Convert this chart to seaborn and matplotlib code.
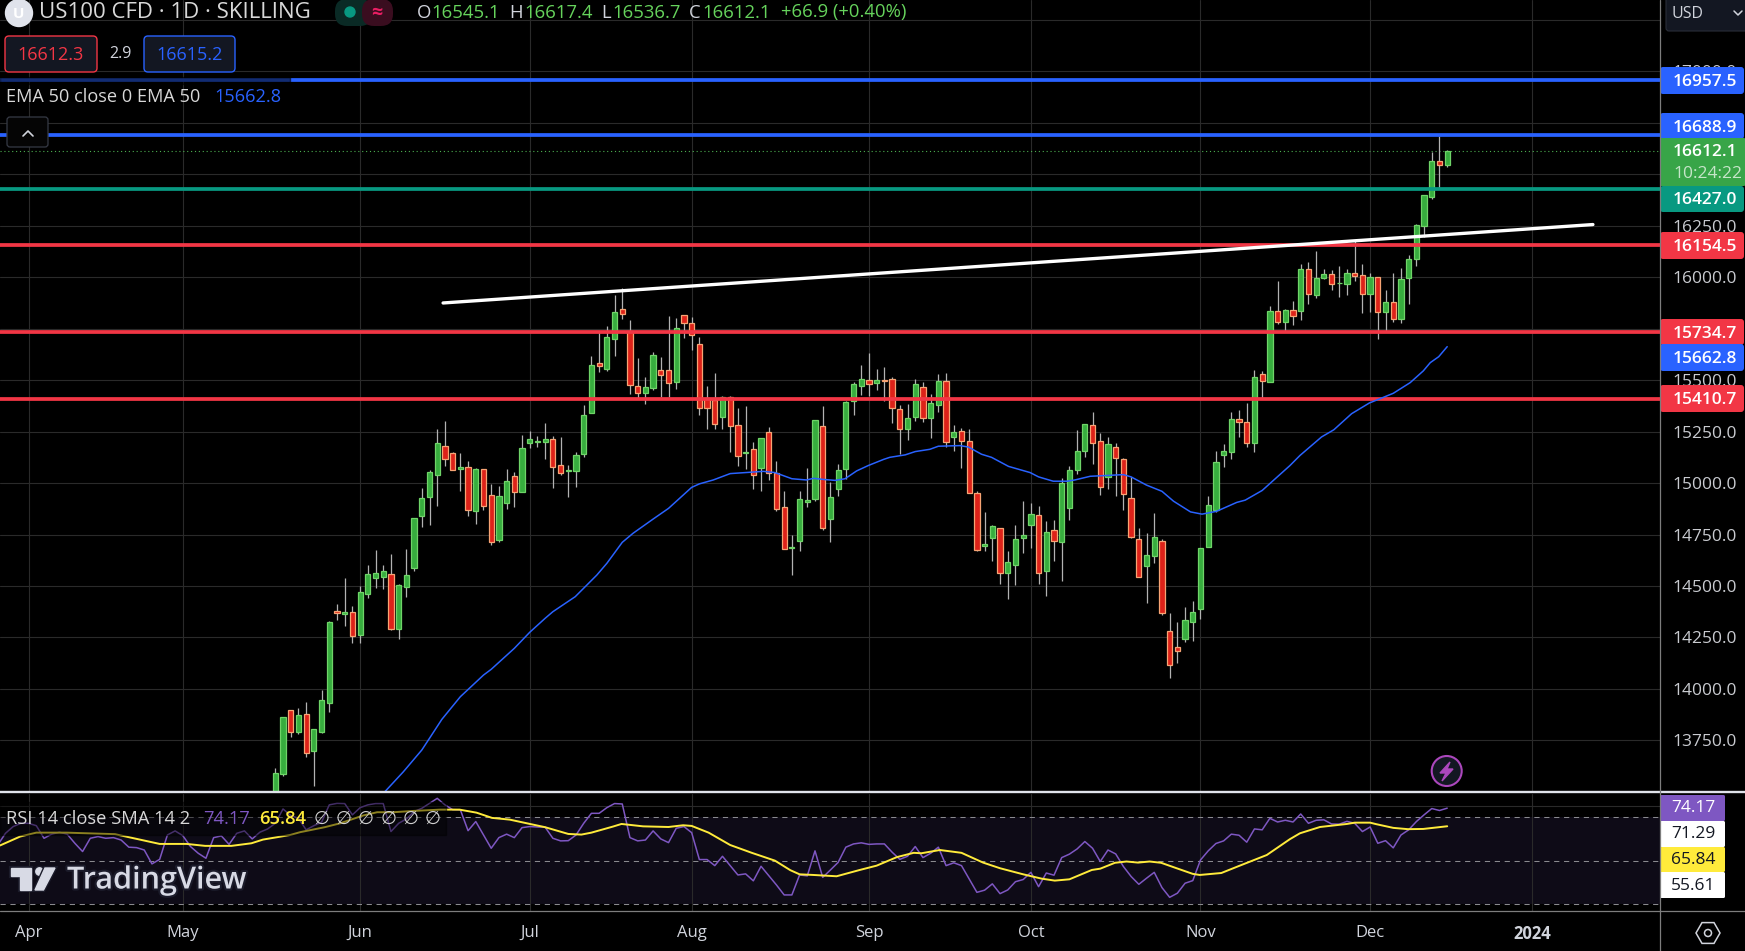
import numpy as np
import pandas as pd
import matplotlib
matplotlib.use("Agg")
import matplotlib.pyplot as plt
import matplotlib.patheffects as pe
from matplotlib.patches import Circle, FancyBboxPatch, Polygon, Rectangle, RegularPolygon
import seaborn as sns

# daily candles, first bar that reaches the visible pane is bar 32 (bar 0 = 3 Apr)
first_bar = 32
opens = [
    13480, 13588, 13896, 13792, 13876, 13700, 13790, 13933, 14377, 14365,
    14372, 14263, 14463, 14540, 14542, 14557, 14292, 14493, 14589, 14842,
    14934, 15041, 15179, 15145, 15070, 15077, 14866, 15067, 14940, 14725,
    14905, 15033, 14958, 15196, 15200, 15201, 15213, 15086, 15060, 15060,
    15143, 15342, 15582, 15556, 15702, 15844, 15741, 15470, 15439, 15464,
    15548, 15548, 15493, 15815, 15776, 15674, 15412, 15402, 15323, 15417,
    15281, 15146, 15164, 15075, 15250, 15051, 14882, 14686, 14720, 14910,
    14924, 15276, 14827, 14973, 15070, 15401, 15473, 15499, 15485, 15499,
    15504, 15362, 15264, 15323, 15465, 15318, 15381, 15495, 15226, 15251,
    15203, 14950, 14696, 14735, 14780, 14565, 14604, 14735, 14798, 14843,
    14574, 14770, 14715, 14881, 15065, 15158, 15281, 15203, 15031, 15174,
    15115, 14926, 14727, 14599, 14647, 14717, 14280, 14202, 14244, 14326,
    14386, 14691, 14869, 15134, 15153, 15311, 15295, 15193, 15529, 15493,
    15835, 15784, 15840, 15838, 16039, 15916, 15998, 16015, 15970, 15965,
    16020, 16010, 15921, 16000, 15829, 15878, 15795, 15994, 16091, 16251,
    16392, 16563, 16545.1,
]
highs = [
    13614, 13862, 13897, 13905, 13934, 13803, 13994, 14330, 14412, 14539,
    14403, 14500, 14602, 14675, 14602, 14655, 14508, 14680, 14830, 14974,
    15064, 15263, 15302, 15149, 15146, 15106, 15072, 15068, 14996, 14986,
    15068, 15054, 15234, 15253, 15229, 15292, 15229, 15224, 15088, 15149,
    15378, 15618, 15734, 15763, 15914, 15946, 15791, 15606, 15514, 15637,
    15613, 15812, 15802, 15815, 15806, 15708, 15472, 15533, 15422, 15422,
    15365, 15375, 15198, 15217, 15271, 15107, 14960, 14748, 14960, 15072,
    15305, 15375, 15004, 15091, 15397, 15491, 15574, 15632, 15554, 15564,
    15514, 15378, 15384, 15504, 15491, 15433, 15530, 15535, 15282, 15266,
    15263, 14960, 14859, 14795, 14780, 14668, 14795, 14911, 14903, 14887,
    14816, 14821, 15023, 15083, 15258, 15286, 15345, 15243, 15222, 15195,
    15122, 15028, 14780, 14757, 14855, 14727, 14367, 14325, 14398, 14427,
    14683, 14936, 15156, 15189, 15345, 15354, 15389, 15550, 15545, 15861,
    15982, 15847, 15883, 16065, 16074, 16128, 16039, 16036, 16055, 16041,
    16178, 16065, 16022, 16000, 15939, 16022, 16046, 16109, 16260, 16400,
    16608, 16687, 16617.4,
]
lows = [
    13470, 13578, 13768, 13781, 13670, 13528, 13787, 13887, 14335, 14305,
    14224, 14224, 14443, 14492, 14487, 14286, 14244, 14448, 14574, 14788,
    14796, 14889, 15083, 15064, 14963, 14840, 14803, 14871, 14699, 14715,
    14874, 14884, 14958, 15172, 15177, 15117, 14976, 15039, 14934, 14983,
    15127, 15342, 15540, 15546, 15618, 15797, 15433, 15415, 15384, 15452,
    15420, 15420, 15457, 15705, 15647, 15331, 15263, 15263, 15264, 15151,
    15083, 15068, 14971, 14962, 15015, 14866, 14681, 14553, 14670, 14884,
    14913, 14772, 14714, 14937, 15020, 15331, 15428, 15423, 15452, 15401,
    15292, 15141, 15209, 15302, 15297, 15219, 15345, 15174, 15156, 15073,
    14953, 14672, 14670, 14621, 14510, 14437, 14505, 14660, 14683, 14510,
    14451, 14623, 14524, 14821, 15044, 15127, 15093, 14942, 14971, 14937,
    14869, 14733, 14545, 14417, 14612, 14359, 14053, 14126, 14228, 14232,
    14339, 14691, 14859, 15076, 15115, 15224, 15175, 15149, 15411, 15493,
    15774, 15741, 15770, 15790, 15871, 15897, 15992, 15940, 15906, 15916,
    15984, 15824, 15831, 15698, 15741, 15784, 15776, 15871, 16057, 16196,
    16381, 16430, 16536.7,
]
closes = [
    13589, 13862, 13792, 13871, 13690, 13803, 13944, 14323, 14370, 14373,
    14258, 14469, 14557, 14561, 14571, 14292, 14503, 14552, 14829, 14926,
    15052, 15193, 15119, 15065, 15077, 14871, 15067, 14890, 14715, 14936,
    15009, 14958, 15169, 15213, 15203, 15213, 15080, 15051, 15062, 15135,
    15329, 15572, 15571, 15708, 15830, 15823, 15478, 15439, 15465, 15621,
    15527, 15488, 15752, 15780, 15721, 15367, 15367, 15289, 15417, 15279,
    15133, 15149, 15038, 15217, 15051, 14876, 14681, 14688, 14921, 14916,
    15305, 14783, 14931, 15062, 15392, 15480, 15504, 15480, 15499, 15498,
    15367, 15264, 15315, 15480, 15315, 15388, 15495, 15201, 15247, 15206,
    14953, 14676, 14702, 14790, 14565, 14615, 14727, 14746, 14848, 14565,
    14761, 14720, 14999, 15062, 15154, 15286, 15196, 14983, 15188, 15124,
    14949, 14738, 14545, 14649, 14736, 14370, 14118, 14186, 14333, 14372,
    14683, 14892, 15101, 15154, 15311, 15295, 15193, 15514, 15498, 15835,
    15784, 15840, 15814, 16039, 15918, 15996, 16015, 15965, 15973, 16020,
    16008, 15921, 16000, 15829, 15878, 15795, 15991, 16088, 16253, 16398,
    16563, 16543, 16612.1,
]

ema_bars = [46.2, 48.6, 51, 52, 53.6, 56, 59, 60, 63, 65, 67, 68, 70.9, 73.7, 75, 77, 78.4, 81, 83, 86,
            87, 88.8, 91, 93.4, 95.3, 96.8, 99, 100.9, 101.8, 103, 104.6, 105.9, 107.4, 108.9, 110.9,
            111.7, 113.7, 115, 116.9, 118, 120.8, 121.9, 123.6, 124.9, 127.1, 129.9, 131, 132.9, 134.7,
            135.7, 137.7, 139.4, 142, 143, 145, 147, 148.5, 150.7, 152.2, 154.1, 156.7, 157.8, 160,
            163.6, 164.9, 167.7, 169.3, 171.6, 173.9, 177, 179.2, 180.9, 181.8, 182.9, 184]
ema_vals = [13500, 13597, 13703, 13760, 13852, 13962, 14067, 14095, 14197, 14275, 14343, 14375, 14448, 14553,
            14610, 14712, 14756, 14825, 14877, 14979, 14996, 15015, 15046, 15052, 15057, 15051, 15021, 15015,
            15023, 15018, 15013, 15021, 15059, 15085, 15115, 15125, 15137, 15153, 15164, 15179, 15182, 15175,
            15140, 15125, 15081, 15051, 15030, 15009, 15009, 15015, 15033, 15036, 15041, 15030, 14990, 14960,
            14912, 14860, 14849, 14863, 14906, 14917, 14964, 15085, 15134, 15224, 15259, 15337, 15389, 15436,
            15488, 15545, 15585, 15614, 15662.8]

# RSI per bar, starts 4 bars left of April
rsi_first_bar = -4
rsi_vals = [
    57.2, 62.6, 65.7, 67.2, 67.2, 66.1, 60.3, 62.2, 63.1, 62.2, 58.0, 54.2, 60.3, 61.1, 60.3, 60.6,
    59.5, 56.2, 56.0, 54.9, 48.5, 50.6, 61.8, 63.7, 61.5, 56.5, 53.4, 51.1, 60.6, 61.4, 57.5, 62.6,
    63.7, 60.0, 63.1, 64.6, 67.2, 73.8, 70.8, 69.5, 64.2, 66.1, 67.7, 75.7, 76.4, 76.3, 71.1, 74.4,
    75.7, 76.3, 76.3, 63.4, 67.2, 69.2, 72.6, 74.1, 76.4, 78.7, 75.7, 73.5, 73.4, 63.8, 68.0, 61.8,
    55.7, 60.6, 62.2, 60.6, 65.2, 65.7, 65.5, 65.4, 60.3, 59.1, 59.2, 61.8, 67.2, 71.8, 71.8, 74.4,
    76.3, 76.1, 60.6, 59.1, 59.5, 63.7, 60.0, 58.3, 64.9, 65.7, 62.9, 50.5, 50.5, 47.7, 52.0, 47.7,
    43.4, 43.9, 40.7, 47.4, 43.1, 38.8, 34.2, 34.2, 43.4, 43.0, 54.5, 42.3, 45.7, 49.2, 56.2, 57.7,
    58.2, 57.5, 57.7, 57.7, 53.9, 50.6, 52.0, 56.5, 51.4, 53.4, 56.2, 47.7, 49.0, 47.7, 41.6, 35.4,
    36.4, 39.3, 34.8, 36.5, 40.3, 41.3, 44.6, 38.0, 44.3, 43.3, 51.4, 53.0, 55.4, 58.8, 55.7, 49.6,
    54.9, 53.1, 47.3, 42.7, 39.1, 41.9, 44.6, 37.6, 33.1, 35.0, 39.6, 40.8, 50.3, 54.5, 57.9, 59.1,
    62.2, 61.7, 58.5, 64.6, 64.2, 69.5, 67.8, 68.6, 67.8, 71.5, 67.2, 68.6, 68.8, 66.9, 66.8, 68.1,
    67.2, 63.4, 65.5, 58.0, 59.2, 55.9, 61.8, 64.2, 68.0, 71.1, 74.0, 73.1, 74.17,
]
sma_bars = [-3.7, -1.1, 1, 4.9, 11.2, 17, 20.5, 22.9, 26.3, 28.9, 30.4, 33.9, 35.2, 38.4, 40.4, 43.4, 45.2,
            47.3, 49.9, 53.4, 55.9, 58.1, 60.1, 62.4, 67, 70, 71.7, 73, 75.8, 76.9, 79.7, 83, 84.9, 86,
            88.2, 91, 93.8, 96.8, 98.8, 100, 101.8, 104.8, 107.8, 110, 112.6, 114.8, 115.8, 118.2, 121,
            123.8, 126, 129, 131.4, 133.1, 135, 137.9, 139, 140.9, 142.4, 143.9, 145.4, 146.9, 148.9,
            151, 151.9, 154.7, 157.1, 160.6, 163.6, 164.9, 167.5, 171, 172, 174, 174.8, 177, 178.9, 180.9, 184]
sma_vals = [57.0, 61.1, 62.9, 62.9, 62.2, 57.7, 57.7, 56.8, 56.8, 58.0, 59.7, 61.8, 63.1, 65.4, 67.2, 70.8, 72.3,
            72.3, 72.9, 73.5, 73.5, 72.1, 69.7, 68.9, 65.4, 62.3, 62.0, 62.9, 65.7, 66.9, 65.8, 65.5, 66.3, 66.0,
            62.9, 57.2, 53.6, 50.0, 45.6, 43.7, 43.4, 42.8, 45.7, 47.7, 51.6, 53.6, 53.4, 54.9, 53.6,
            49.1, 46.5, 43.7, 41.7, 40.8, 41.4, 45.7, 46.3, 49.0, 49.6, 49.1, 49.6, 49.0, 46.5,
            43.9, 43.4, 44.3, 47.7, 52.6, 59.9, 62.6, 65.5, 66.9, 67.5, 67.5, 66.8, 65.1, 64.5, 64.6, 65.84]

month_labels = ["Apr", "May", "Jun", "Jul", "Aug", "Sep", "Oct", "Nov", "Dec", "2024"]
month_bars = [0, 20, 43, 65, 86, 109, 130, 152, 174, 195]
price_ticks = [13750, 14000, 14250, 14500, 14750, 15000, 15250, 15500, 15750, 16000, 16250, 16500, 16750, 17000, 17250]
# these sit fully behind a tag or the currency box in the app
hidden_ticks = [15750, 16500, 16750, 17250]

# horizontal levels (price, colour)
level_prices = [16957.5, 16688.9, 16427.0, 16154.5, 15734.7, 15410.7]
level_colors = ["#2962ff", "#2962ff", "#089981", "#f23645", "#f23645", "#f23645"]
last_price = 16612.1
trend_bars = [53.76, 202.9]
trend_prices = [15875, 16256]

W, H = 1745, 951
AXIS_X = 1660
GRID = "#2a2a2a"
TEXT = "#d1d4dc"
PURPLE = "#7e57c2"
YELLOW = "#ffeb3b"

sns.set_theme(style="dark", rc={"axes.facecolor": "black", "figure.facecolor": "black", "axes.grid": True,
                                "grid.color": GRID, "grid.linewidth": 0.8})
plt.rcParams["font.family"] = ["Open Sans", "DejaVu Sans"]


def pane(left, top, right, bottom):
    return fig.add_axes([left / W, 1 - bottom / H, (right - left) / W, (bottom - top) / H])


fig = plt.figure(figsize=(W / 100, H / 100), dpi=100)
ax = pane(0, 0, AXIS_X, 792)
rsi_ax = pane(0, 794, AXIS_X, 911)

candles = pd.DataFrame({"open": opens, "high": highs, "low": lows, "close": closes})
candles["bar"] = np.arange(first_bar, first_bar + len(candles))
candles["up"] = candles["close"] >= candles["open"]
candles["top"] = candles[["open", "close"]].max(axis=1)
candles["bottom"] = candles[["open", "close"]].min(axis=1)

# levels and candles
for price, color in zip(level_prices, level_colors):
    ax.axhline(price, color=color, lw=2.7, zorder=4)
ax.axhline(last_price, color="#4caf50", lw=0.8, ls=(0, (1, 2.5)), zorder=2)

ax.vlines(candles["bar"], candles["low"], candles["high"], color="#b2b2b2", lw=0.9, zorder=3)
for up, fill, edge in [(True, "#37ad3e", "#6fd468"), (False, "#dd2219", "#f7a474")]:
    part = candles[candles["up"] == up]
    ax.bar(part["bar"], part["top"] - part["bottom"], bottom=part["bottom"], width=0.68,
           color=fill, edgecolor=edge, linewidth=0.9, zorder=3.5)

sns.lineplot(x=ema_bars, y=ema_vals, color="#2962ff", linewidth=1.1, ax=ax, zorder=5, sort=False, errorbar=None)
sns.lineplot(x=trend_bars, y=trend_prices, color="white", linewidth=2.4, ax=ax, zorder=6, sort=False, errorbar=None)

ax.set_xlim(-3.71, 211.6)
ax.set_ylim(13499, 17347)
ax.set_xticks(month_bars)
ax.set_yticks(price_ticks)
ax.set_yticklabels(["" if p in hidden_ticks else f"{p:.1f}" for p in price_ticks])
ax.yaxis.tick_right()
ax.tick_params(axis="x", length=0, labelbottom=False)
ax.tick_params(axis="y", length=0, pad=9, labelcolor="#c9cbd0", labelsize=12.5)
ax.set_xlabel("")
ax.set_ylabel("")
ax.grid(True, color=GRID, lw=0.8)
ax.set_axisbelow(True)
sns.despine(ax=ax, left=True, bottom=True, right=True, top=True)

# RSI pane
rsi_ax.axhspan(30, 70, color="#0e0b17", lw=0, zorder=0)
for lvl in [70, 50, 30]:
    rsi_ax.axhline(lvl, color="#8a8a8f", lw=0.75, ls=(0, (5, 4.5)), zorder=1)
rsi_bars = np.arange(rsi_first_bar, rsi_first_bar + len(rsi_vals))
sns.lineplot(x=rsi_bars, y=rsi_vals, color=PURPLE, linewidth=1.1, ax=rsi_ax, zorder=3, errorbar=None)
sns.lineplot(x=sma_bars, y=sma_vals, color=YELLOW, linewidth=1.4, ax=rsi_ax, zorder=4, sort=False, errorbar=None)
rsi_ax.set_xlim(-3.71, 211.6)
rsi_ax.set_ylim(26.8, 80.7)
rsi_ax.set_yticks([75])
rsi_ax.set_yticklabels([])
rsi_ax.set_xticks(month_bars)
rsi_ax.set_xticklabels(month_labels)
rsi_ax.get_xticklabels()[-1].set_fontweight("bold")
rsi_ax.tick_params(axis="both", length=0)
rsi_ax.tick_params(axis="x", pad=10, labelcolor=TEXT, labelsize=12)
rsi_ax.set_xlabel("")
rsi_ax.set_ylabel("")
rsi_ax.grid(True, color=GRID, lw=0.8)
rsi_ax.set_axisbelow(True)
sns.despine(ax=rsi_ax, left=True, bottom=True, right=True, top=True)

# overlay in screen pixels for the app chrome: price tags, legends, logo
ui = fig.add_axes([0, 0, 1, 1], zorder=10)
ui.set_xlim(0, W)
ui.set_ylim(H, 0)
ui.axis("off")


def box(x0, y0, x1, y1, face, edge="none", lw=0.0, radius=3.0, alpha=1.0, zorder=2):
    ui.add_patch(FancyBboxPatch((x0, y0), x1 - x0, y1 - y0, boxstyle=f"round,pad=0,rounding_size={radius}",
                                facecolor=face, edgecolor=edge, linewidth=lw, alpha=alpha, zorder=zorder))


def label(x, y, s, color=TEXT, size=12.5, ha="left", weight="normal", zorder=5):
    # open sans sits a little high with va=center, nudge down
    return ui.text(x, y + 1.5, s, color=color, fontsize=size, ha=ha, va="center", fontweight=weight, zorder=zorder)


# frame lines
ui.plot([0, W], [792, 792], color="#e0e3eb", lw=1.7, zorder=3)
ui.plot([AXIS_X, AXIS_X], [0, H], color="#7d7d7d", lw=0.9, zorder=3)
ui.plot([0, W], [911, 911], color="#7d7d7d", lw=0.9, zorder=3)

# right-hand price tags: top, bottom, text, colour
tags = [
    (67, 94, "16957.5", "#2962ff"),
    (113, 139, "16688.9", "#2962ff"),
    (186, 212, "16427.0", "#089981"),
    (232, 259, "16154.5", "#f23645"),
    (319, 345, "15734.7", "#f23645"),
    (344, 371, "15662.8", "#2962ff"),
    (385, 412, "15410.7", "#f23645"),
]
for top, bottom, txt, col in tags:
    box(AXIS_X, top, 1744, bottom, col)
    label(1673, (top + bottom) / 2, txt, color="white", weight="semibold")
box(AXIS_X, 138, 1745, 186, "#38a548", radius=1)
label(1673, 151, "16612.1", color="white", weight="semibold")
label(1673, 172, "10:24:22", color="#c6e5c9", size=12.5)

# USD selector
box(1666, -6, 1750, 31, "#131722", edge="#2a2e39", lw=0.8)
label(1672, 12, "USD", size=11.5)
ui.plot([1734, 1738, 1742], [11, 15, 11], color=TEXT, lw=1.1, zorder=5)

# header
ui.add_patch(Circle((19, 13), 13.5, color="#e0e3eb", zorder=3))
label(19, 12, "U", color="white", size=11, ha="center", weight="bold")
label(39, 11, "US100 CFD · 1D · SKILLING", color="#d8d8d8", size=16)
box(335, -1, 372, 26, "#0a2a25", radius=12)
box(362, -1, 393, 26, "#3a0d1f", radius=12, zorder=2.5)
ui.add_patch(Circle((350, 12), 5, color="#089981", zorder=4))
label(377, 11, "≈", color="#e91e63", size=14, ha="center", weight="bold")

ohlc_green = "#66d35c"
ohlc = [(417, "O", TEXT), (431, "16545.1", ohlc_green), (509, "H", TEXT), (524, "16617.4", ohlc_green),
        (601, "L", TEXT), (612, "16536.7", ohlc_green), (689, "C", TEXT), (702, "16612.1", ohlc_green),
        (781, "+66.9 (+0.40%)", ohlc_green)]
for x, s, col in ohlc:
    label(x, 11, s, color=col, size=13.3)

box(5, 36, 97, 72, "#131722", edge="#f23645", lw=1.0, radius=4)
label(51, 53, "16612.3", color="#f23645", ha="center", size=13)
label(120, 53, "2.9", ha="center", size=11.5)
box(144, 36, 235, 72, "#131722", edge="#2962ff", lw=1.0, radius=4)
label(190, 53, "16615.2", color="#2962ff", ha="center", size=13)

# legend strip dims the top level line where it passes behind it
ui.add_patch(Rectangle((0, 77), 290, 7, color="black", alpha=0.55, zorder=2))
label(6, 96, "EMA 50 close 0 EMA 50", color="#d8d8d8", size=13.1)
label(214, 96, "15662.8", color="#2962ff", size=13.1)

box(7, 117, 48, 147, "#050505", edge="#363a45", lw=0.9, radius=3)
ui.plot([23, 28, 33], [136, 131, 136], color=TEXT, lw=1.2, zorder=5)

# lightning button
ui.add_patch(Circle((1446.7, 771), 15, facecolor="#131722", edgecolor="#ab47bc", lw=1.5, zorder=3))
ui.add_patch(Polygon([(1450, 762), (1440, 773), (1446, 773), (1442, 781), (1453, 769), (1447, 769)],
                     closed=True, color="#ab47bc", zorder=4))

# RSI legend
ui.add_patch(Rectangle((0, 802), 446, 33, color="black", alpha=0.45, zorder=2))
label(6, 817, "RSI 14 close SMA 14 2", color="#d8d8d8", size=13.2)
label(203, 817, "74.17", color=PURPLE, size=13.2)
label(259, 817, "65.84", color=YELLOW, size=13.2, weight="semibold")
for x in [322, 344, 366, 389, 411, 433]:
    label(x, 817, "∅", color="#cfcfcf", size=13.2, ha="center")

# RSI tags
rsi_tags = [(795, 821, "74.17", PURPLE, "white"), (821, 847, "71.29", "white", "#131722"),
            (847, 872, "65.84", YELLOW, "#131722"), (872, 898, "55.61", "white", "#131722")]
for top, bottom, txt, col, txt_col in rsi_tags:
    box(AXIS_X, top, 1725, bottom, col, radius=1.5)
    label(1693, (top + bottom) / 2 - 1, txt, color=txt_col, ha="center", size=12.5)

# settings hexagon
ui.add_patch(RegularPolygon((1708, 933), 6, radius=12, orientation=np.pi / 6, fill=False,
                            edgecolor=TEXT, lw=1.1, zorder=4))
ui.add_patch(Circle((1708, 933), 3.5, fill=False, edgecolor=TEXT, lw=1.1, zorder=4))

# TradingView logo
logo_col = "#d8dae5"
halo = [pe.withStroke(linewidth=3, foreground="#1b1b2a")]
logo_parts = [
    Polygon([(11, 868), (31, 868), (31, 890), (20, 890), (20, 876), (11, 876)], closed=True, color=logo_col, zorder=6),
    Circle((39.5, 871.5), 3.7, color=logo_col, zorder=6),
    Polygon([(45, 868), (55, 868), (43.5, 890), (35, 890)], closed=True, color=logo_col, zorder=6),
]
for part in logo_parts:
    part.set_path_effects(halo)
    ui.add_patch(part)
tv = label(67, 879, "TradingView", color=logo_col, size=22, weight="semibold", zorder=6)
tv.set_path_effects(halo)

fig.savefig("out.png", dpi=100, facecolor="black")
